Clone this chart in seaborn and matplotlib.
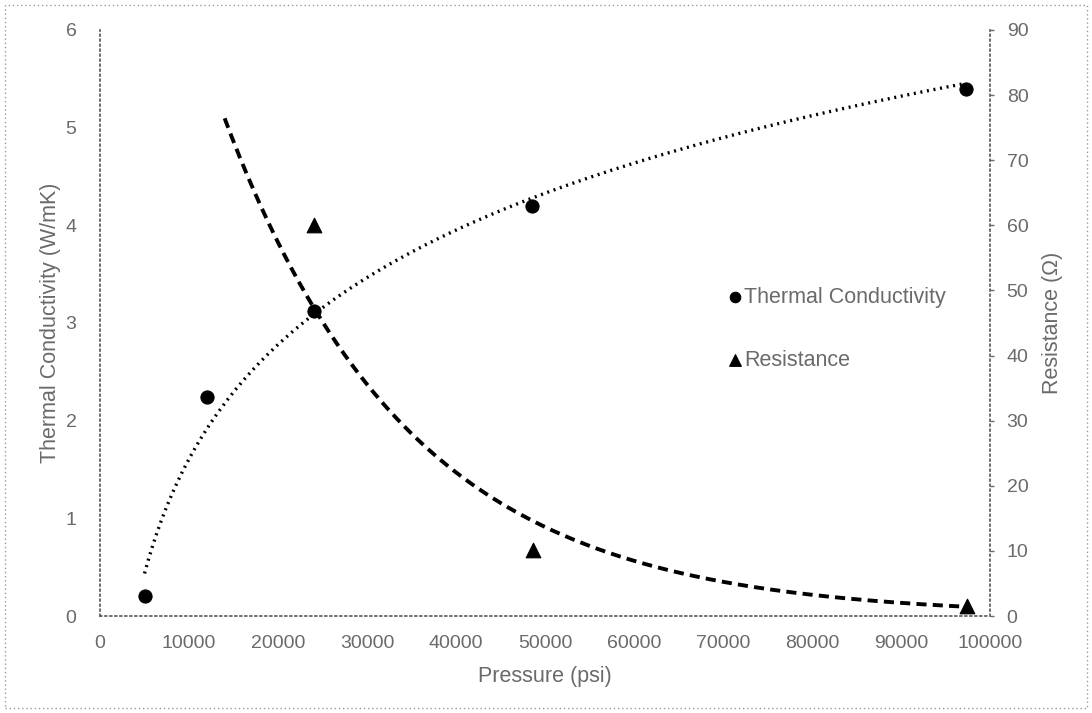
import numpy as np
import pandas as pd
import matplotlib
matplotlib.use("Agg")
import matplotlib.pyplot as plt
import seaborn as sns
from matplotlib.patches import Rectangle

# ---- Data ----
tc_pressure = [5000, 12000, 24000, 48500, 97300]
tc_values = [0.21, 2.24, 3.12, 4.20, 5.40]

res_pressure = [24000, 48700, 97400]
res_values = [60.0, 10.2, 1.6]

x_ticks = [0, 10000, 20000, 30000, 40000, 50000, 60000, 70000, 80000, 90000, 100000]
left_ticks = [0, 1, 2, 3, 4, 5, 6]
right_ticks = [0, 10, 20, 30, 40, 50, 60, 70, 80, 90]

df_tc = pd.DataFrame({"pressure": tc_pressure, "value": tc_values})
df_res = pd.DataFrame({"pressure": res_pressure, "value": res_values})

# ---- Trendlines fitted to the points (log for TC, exponential for R) ----
a_log, b_log = np.polyfit(np.log(df_tc["pressure"]), df_tc["value"], 1)
tc_fit_x = np.linspace(df_tc["pressure"].min(), df_tc["pressure"].max(), 200)
df_tc_fit = pd.DataFrame({"pressure": tc_fit_x,
                          "value": a_log * np.log(tc_fit_x) + b_log})

k_exp, c_exp = np.polyfit(df_res["pressure"], np.log(df_res["value"]), 1)
res_fit_x = np.linspace(14000, df_res["pressure"].max(), 200)  # backward forecast
df_res_fit = pd.DataFrame({"pressure": res_fit_x,
                           "value": np.exp(c_exp + k_exp * res_fit_x)})

# ---- Styling ----
sns.set_style("white")
plt.rcParams["font.family"] = ["Liberation Sans", "DejaVu Sans"]
text_grey = "#6a6a6a"
spine_grey = "#555555"

fig = plt.figure(figsize=(10.92, 7.13), dpi=100)
ax = fig.add_axes([0.0916, 0.136, 0.815, 0.822])
ax2 = ax.twinx()

sns.lineplot(data=df_tc_fit, x="pressure", y="value", ax=ax, color="black",
             lw=2.4, linestyle=(0, (0.6, 1.4)), zorder=2)
sns.scatterplot(data=df_tc, x="pressure", y="value", ax=ax, color="black",
                marker="o", s=90, edgecolor="black", zorder=3,
                label="Thermal Conductivity")

sns.lineplot(data=df_res_fit, x="pressure", y="value", ax=ax2, color="black",
             lw=2.8, linestyle=(0, (2.6, 1.6)), zorder=2)
sns.scatterplot(data=df_res, x="pressure", y="value", ax=ax2, color="black",
                marker="^", s=110, edgecolor="black", zorder=3,
                label="Resistance")

ax.set_xlim(0, 100000)
ax.set_ylim(0, 6)
ax2.set_ylim(0, 90)
ax.set_xticks(x_ticks)
ax.set_yticks(left_ticks)
ax2.set_yticks(right_ticks)

ax.set_xlabel("Pressure (psi)", color=text_grey, fontsize=15.5, labelpad=10)
ax.set_ylabel("Thermal Conductivity (W/mK)", color=text_grey, fontsize=15.5, labelpad=3)
ax2.set_ylabel("Resistance (Ω)", color=text_grey, fontsize=15.5, labelpad=10)

ax.tick_params(axis="x", colors=text_grey, labelsize=14, length=0, pad=14)
ax.tick_params(axis="y", colors=text_grey, labelsize=14, length=0, pad=17)
ax2.tick_params(axis="y", colors=text_grey, labelsize=14, length=3, width=1,
                direction="out", pad=9)

for a in (ax, ax2):
    a.spines["top"].set_visible(False)
    for side in ("left", "bottom", "right"):
        a.spines[side].set_linestyle((0, (1, 2)))
        a.spines[side].set_color(spine_grey)
        a.spines[side].set_linewidth(1.2)
ax.spines["right"].set_visible(False)
ax2.spines["left"].set_visible(False)
ax2.spines["bottom"].set_visible(False)

# ---- Legend (one entry per axis, combined) ----
h1, l1 = ax.get_legend_handles_labels()
h2, l2 = ax2.get_legend_handles_labels()
if ax2.get_legend():
    ax2.get_legend().remove()
leg = ax.legend(h1 + h2, l1 + l2, loc="upper left", bbox_to_anchor=(0.680, 0.595),
                frameon=False, fontsize=15.5, handletextpad=-0.1, labelspacing=1.95,
                handlelength=1.0, markerscale=0.8)
for t in leg.get_texts():
    t.set_color(text_grey)

# dotted frame around the whole picture
fig.patches.append(Rectangle((0.005, 0.007), 0.99, 0.986, transform=fig.transFigure,
                             fill=False, linestyle=(0, (1, 2)), edgecolor="#999999",
                             lw=1.0))

fig.savefig("out.png", dpi=100)
